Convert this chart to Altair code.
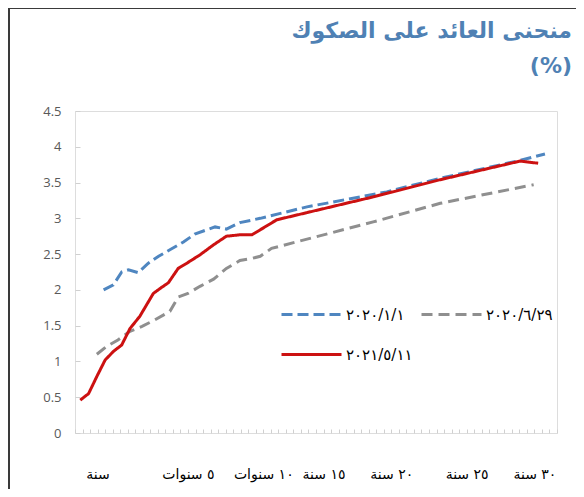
import altair as alt
import pandas as pd

# ---- data ----
series_names = ["٢٠٢٠/١/١", "٢٠٢٠/٦/٢٩", "٢٠٢١/٥/١١"]

# x = position along the (category-style) maturity axis
blue_x = [3.3, 4.6, 5.7, 6.6, 7.9, 9.2, 10.6, 12.1, 13.9, 15.4, 17.0, 18.1, 19.6,
          21.4, 23.2, 24.1, 30.3, 40.9, 48.0, 58.6, 61.9]
blue_y = [2.00, 2.07, 2.25, 2.28, 2.24, 2.37, 2.47, 2.56, 2.67, 2.78, 2.84, 2.88, 2.85,
          2.94, 2.98, 3.00, 3.16, 3.37, 3.56, 3.81, 3.90]

gray_x = [2.4, 3.7, 5.2, 6.8, 8.4, 10.1, 12.1, 13.2, 14.5, 16.1, 17.9, 19.6, 21.4,
          23.0, 24.1, 25.6, 39.1, 48.0, 60.4]
gray_y = [1.10, 1.21, 1.30, 1.42, 1.49, 1.58, 1.70, 1.90, 1.95, 2.05, 2.15, 2.30, 2.41,
          2.44, 2.47, 2.58, 2.95, 3.21, 3.47]

red_x = [0.2, 1.3, 2.4, 3.5, 4.6, 5.7, 6.8, 8.1, 9.9, 10.8, 11.9, 13.2, 14.3, 16.1,
         17.9, 19.6, 21.4, 23.0, 24.1, 26.3, 30.3, 39.1, 48.0, 58.6, 61.0]
red_y = [0.46, 0.55, 0.79, 1.02, 1.14, 1.23, 1.46, 1.63, 1.95, 2.02, 2.10, 2.30, 2.37, 2.49,
         2.63, 2.75, 2.77, 2.77, 2.84, 2.98, 3.08, 3.30, 3.54, 3.80, 3.77]

x_label_ticks = [2.5, 14.5, 24.5, 32.5, 41.5, 51.5, 60.5]
x_label_text = ["سنة", "٥ سنوات", "١٠ سنوات", "١٥ سنة", "٢٠ سنة", "٢٥ سنة", "٣٠ سنة"]
n_categories = 64
y_ticks = [0, 0.5, 1, 1.5, 2, 2.5, 3, 3.5, 4, 4.5]

title_main = "منحنى العائد على الصكوك"
title_unit = "(%)"

# ---- build table ----
rows = []
for name, xs, ys in [(series_names[0], blue_x, blue_y),
                     (series_names[1], gray_x, gray_y),
                     (series_names[2], red_x, red_y)]:
    for i, (xv, yv) in enumerate(zip(xs, ys)):
        rows.append({"series": name, "x": xv, "y": yv, "order": i})
df = pd.DataFrame(rows)

minor_ticks = [k - 0.5 for k in range(n_categories + 1)]
label_expr = "''"
for v, t in reversed(list(zip(x_label_ticks, x_label_text))):
    label_expr = f"datum.value == {v} ? '{t}' : {label_expr}"

W, H = 482, 322
colors = ["#4f86c0", "#8f8f8f", "#cc1111"]
dashes = [[11, 5], [11, 6], [1, 0]]
title_color = "#4f81b4"

legend = alt.Legend(
    title=None, orient="none", legendX=205, legendY=172,
    direction="horizontal", columns=2, gridAlign="none",
    symbolType="stroke", symbolSize=3600, symbolStrokeWidth=3,
    labelFont="DejaVu Sans", labelFontSize=15, labelColor="#000000",
    labelOffset=3, columnPadding=2, rowPadding=0, labelLimit=200,
)

lines = alt.Chart(df).mark_line(strokeWidth=3).encode(
    x=alt.X("x:Q", scale=alt.Scale(domain=[-0.5, n_categories - 0.5], nice=False, zero=False),
            axis=alt.Axis(title=None, values=minor_ticks, labelExpr=label_expr,
                          domain=False, grid=False, ticks=True, tickSize=4, offset=-4,
                          tickColor="#d0d0d0", labelOverlap=False, labelFlush=False,
                          labelFont="DejaVu Sans", labelFontSize=14, labelColor="#000000",
                          labelPadding=34, labelBaseline="top")),
    y=alt.Y("y:Q", scale=alt.Scale(domain=[0, 4.5], nice=False),
            axis=alt.Axis(title=None, values=y_ticks, format=".1~f", domain=False, grid=False,
                          ticks=True, tickSize=5, offset=-5, tickColor="#d0d0d0",
                          labelFont="Open Sans", labelFontSize=13, labelColor="#595959",
                          labelPadding=14)),
    color=alt.Color("series:N", scale=alt.Scale(domain=series_names, range=colors), legend=legend),
    strokeDash=alt.StrokeDash("series:N", scale=alt.Scale(domain=series_names, range=dashes), legend=legend),
    order="order:Q",
)

frame_data = alt.Data(values=[{}])
left_border = alt.Chart(frame_data).mark_rule(color="#3a3a3a", strokeWidth=2).encode(
    x=alt.value(-66), y=alt.value(-103), y2=alt.value(H + 60))
top_border = alt.Chart(frame_data).mark_rule(color="#3a3a3a", strokeWidth=2).encode(
    x=alt.value(-66), x2=alt.value(W + 30), y=alt.value(-103))

title1 = alt.Chart(frame_data).mark_text(
    text=title_main, align="right", baseline="middle", fontSize=22, fontWeight="bold",
    color=title_color, font="DejaVu Sans").encode(x=alt.value(W + 15), y=alt.value(-80))
title2 = alt.Chart(frame_data).mark_text(
    text=title_unit, align="right", baseline="middle", fontSize=22, fontWeight="bold",
    color=title_color, font="DejaVu Sans").encode(x=alt.value(W + 15), y=alt.value(-45))

chart = alt.layer(lines, left_border, top_border, title1, title2).properties(
    width=W, height=H,
    autosize=alt.AutoSizeParams(type="none"),
    padding={"left": 67, "top": 103, "right": 19, "bottom": 56},
).configure_view(stroke="#d9d9d9", strokeWidth=1.5).configure(background="white")

chart.save("out.html", embed_options={"renderer": "svg", "actions": False})
